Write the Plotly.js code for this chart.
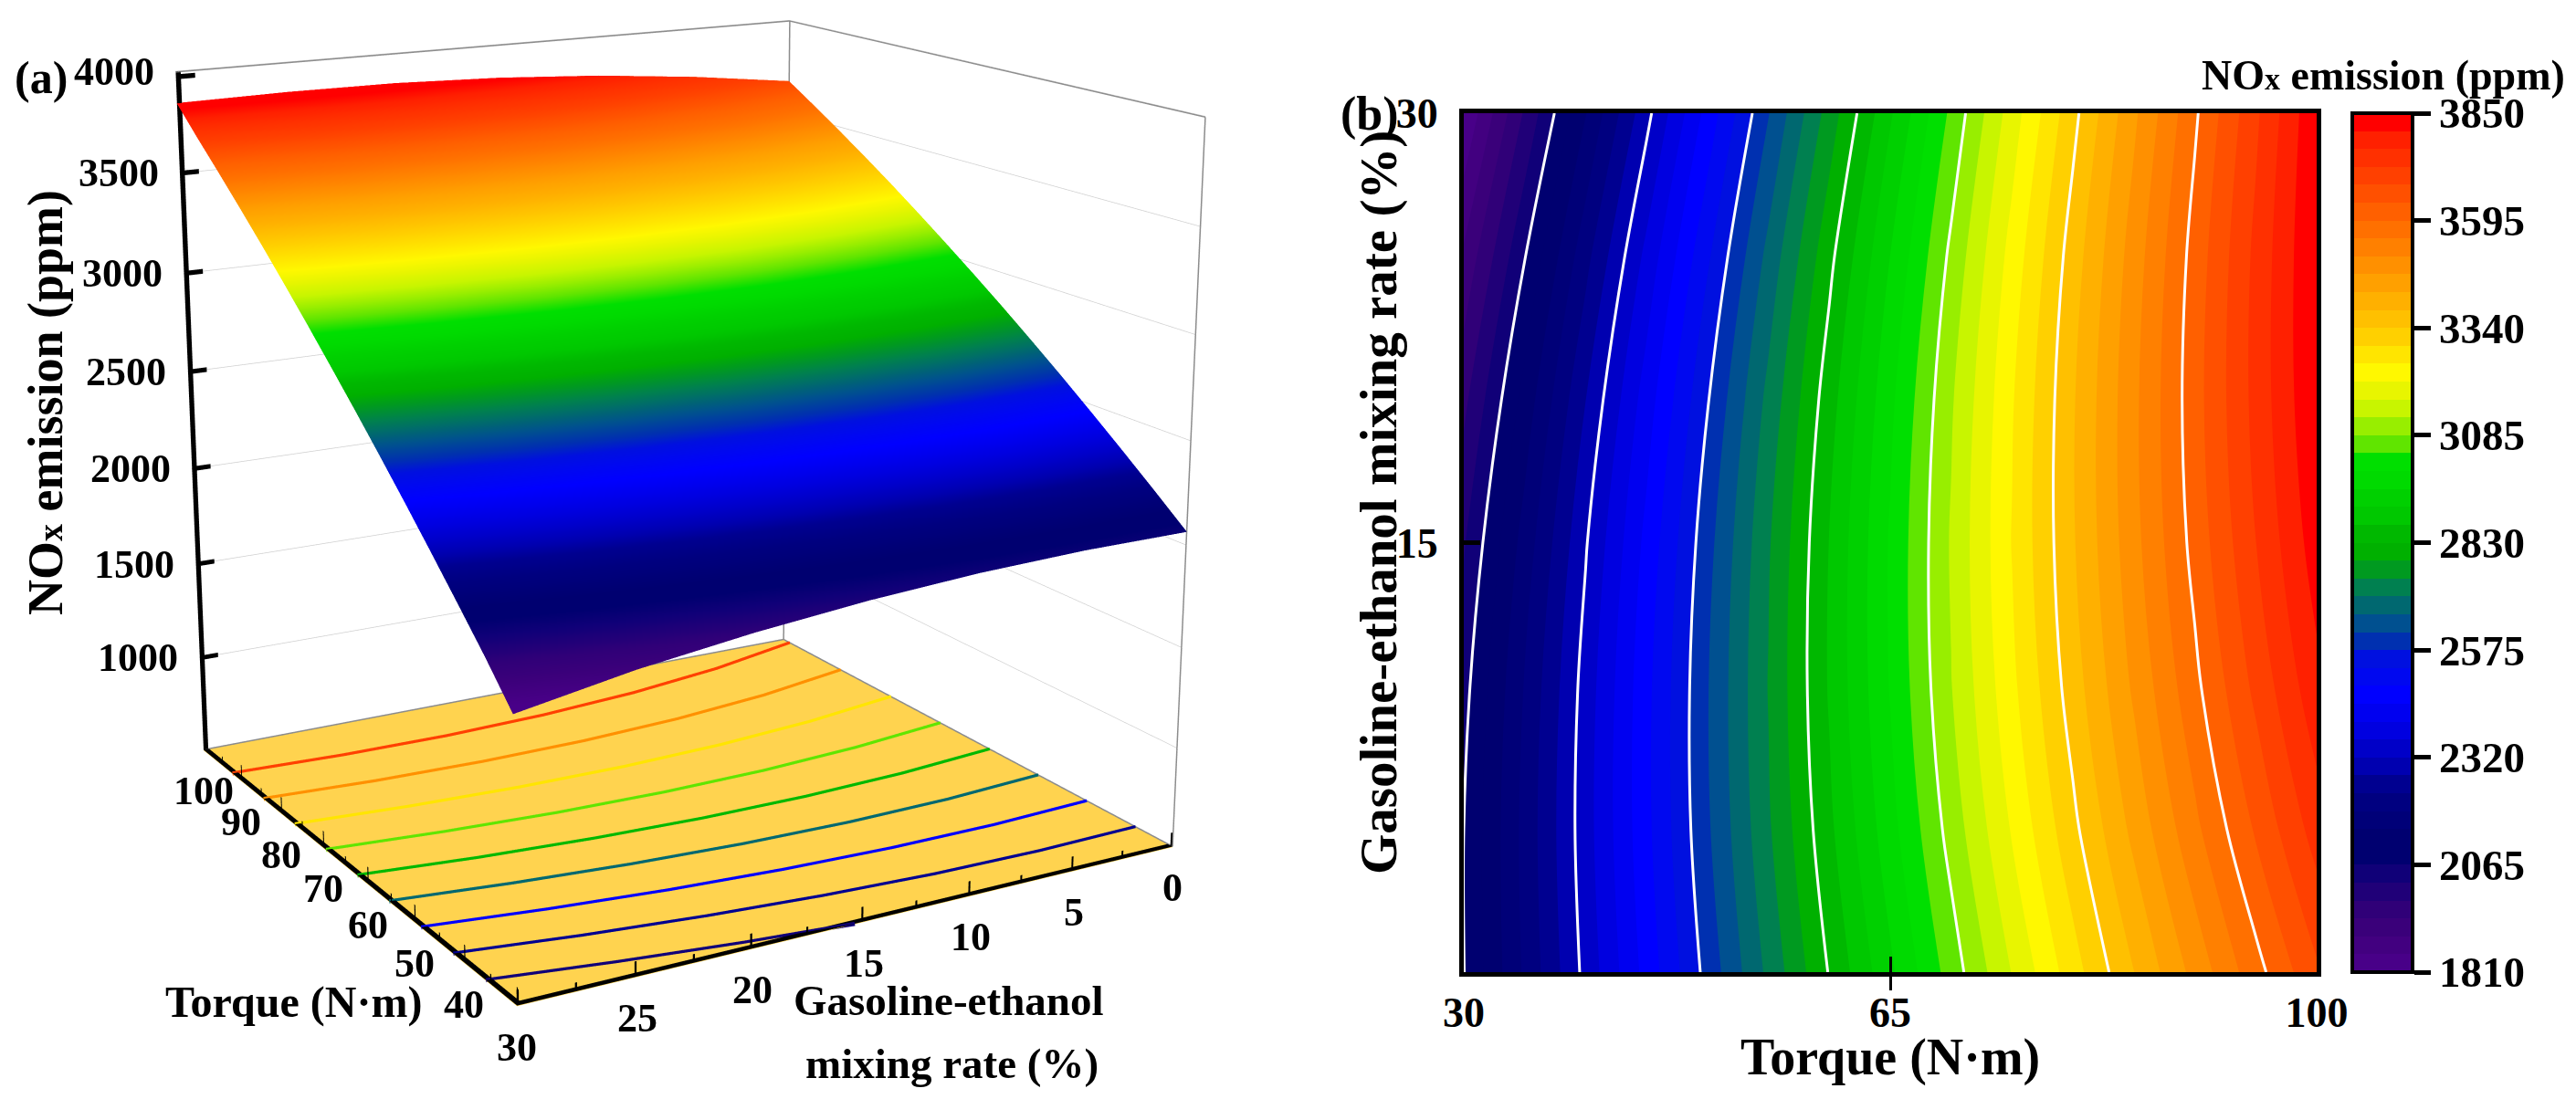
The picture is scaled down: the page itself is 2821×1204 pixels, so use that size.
<!DOCTYPE html>
<html><head><meta charset="utf-8">
<script src="https://cdn.plot.ly/plotly-3.0.1.min.js"></script>
<style>html,body{margin:0;padding:0;background:#fff;overflow:hidden;width:2821px;height:1204px}
#plot{position:absolute;left:0;top:-978px;width:2821px;height:2954px}</style>
</head><body><div id="plot"></div>
<script>
const torque=[30,35,40,45,50,55,60,65,70,75,80,85,90,95,100];
const blend=[0,5,10,15,20,25,30];
const nox0 =[2064,2200,2333,2463,2590,2713,2833,2949,3062,3172,3279,3382,3482,3579,3673];
const nox5 =[2065,2206,2344,2479,2611,2739,2863,2984,3102,3217,3329,3437,3542,3643,3742];
const nox10=[2050,2196,2338,2478,2615,2747,2877,3003,3126,3245,3362,3475,3584,3691,3795];
const nox15=[2018,2168,2316,2460,2602,2740,2874,3005,3132,3257,3378,3496,3610,3722,3830];
const nox20=[1969,2124,2277,2426,2572,2715,2854,2990,3122,3251,3378,3500,3620,3736,3849];
const nox25=[1903,2063,2221,2375,2526,2673,2818,2958,3095,3229,3361,3488,3612,3733,3852];
const nox30=[1812,1986,2148,2307,2463,2615,2764,2909,3052,3191,3327,3459,3588,3714,3845];
const noxTable=[nox0,nox5,nox10,nox15,nox20,nox25,nox30];

// 48 colour-bar bands, lowest to highest
const bandColors=['#480088','#420080','#3a007a','#300078','#200078','#100078',
 '#000070','#000070','#000078','#000080','#000090','#0000b0',
 '#0000c8','#0000e0','#0000f0','#0000ff','#0008f0','#0010e0',
 '#0030b0','#005090','#006870','#008050','#009a20','#00b000',
 '#00b800','#00c800','#00d000','#00da00','#00df00','#60e500',
 '#98ee00','#c8f500','#e8f500','#fff800','#ffe500','#ffd000',
 '#ffc000','#ffb000','#ffa000','#ff9000','#ff8000','#ff7000',
 '#ff6000','#ff5000','#ff4000','#ff3000','#ff2000','#ff0000'];
const barTicks=[1810,2065,2320,2575,2830,3085,3340,3595,3850];
const zTicks=[1000,1500,2000,2500,3000,3500,4000];
const floorLevels=[2014,2218,2422,2626,2830,3034,3238,3442,3646];
const torqueMajor=[30,40,50,60,70,80,90,100];
const torqueMinor=[35,45,55,65,75,85,95];
const blendMajor=[0,5,10,15,20,25,30];
const blendMinor=[2.5,7.5,12.5,17.5,22.5,27.5];
const blendLabels=[0,5,10,15,20,25];
const zRange=[500,4000], tRange=[30,100], bRange=[0,30];

const W=2821,H=2954,TOP=978;
const px=x=>x/W, py=y=>1-(y+TOP)/H;
const serif='"Liberation Serif","Times New Roman",serif';
const scale=bandColors.map((c,i)=>[(i+0.5)/48,c]);
const colorscale=[[0,bandColors[0]],...scale,[1,bandColors[47]]];

const [z0,z1]=zRange,[t0,t1]=tRange,[b0,b1]=bRange;
// marks sit a hair inside the box: fragments exactly on the clip bounds get discarded at random
const tA=t0+0.02,tB=t1-0.05,bA=b0+0.01,bB=b1-0.01,zA=z0+3,zB=z1-3;

function segs(list){const x=[],y=[],z=[];list.forEach(s=>{x.push(s[0][0],s[1][0],null);y.push(s[0][1],s[1][1],null);z.push(s[0][2],s[1][2],null);});return {x,y,z};}
function line3d(list,color,width){return Object.assign({type:'scatter3d',mode:'lines',line:{color,width},hoverinfo:'skip',showlegend:false,scene:'scene'},segs(list));}

// Solid black strips for the axes and ticks: each quad is [corner, alongVector, acrossVector]
function quads(list){
  const x=[],y=[],z=[],i=[],j=[],k=[];
  list.forEach(([p,a,c])=>{
    const n=x.length;
    [[0,0],[1,0],[1,1],[0,1]].forEach(([u,v])=>{x.push(p[0]+u*a[0]+v*c[0]);y.push(p[1]+u*a[1]+v*c[1]);z.push(p[2]+u*a[2]+v*c[2]);});
    i.push(n,n);j.push(n+1,n+2);k.push(n+2,n+3);
  });
  return {type:'mesh3d',scene:'scene',x,y,z,i,j,k,color:'#000',flatshading:true,hoverinfo:'skip',showscale:false,
    lighting:{ambient:1,diffuse:0,specular:0,roughness:1,fresnel:0}};
}
const lift=z0+2;
const axisQuads=[
  [[tB,bB,zA],[0,0,zB-zA],[0,-0.22,0]],
  [[tA,bB,lift],[tB-tA,0,0],[0,-0.26,0]],
  [[tA,bA,lift],[0,bB-bA,0],[0.75,0,0]]
];
const clampT=v=>Math.min(Math.max(v,tA),tB-0.22);
const clampB=v=>Math.min(Math.max(v,bA),bB-0.09);
const tickQuads=[
  ...zTicks.map(v=>[[tB,bB,Math.min(v,zB-24)-12],[0,-0.85,0],[0,0,24]]),
  ...torqueMajor.map(v=>[[clampT(v),b1-0.05,zA],[0,0,80],[0.22,0,0]]),
  ...torqueMinor.map(v=>[[clampT(v),b1-0.05,zA],[0,0,42],[0.22,0,0]]),
  ...blendMajor.map(v=>[[t0+0.1,clampB(v),zA],[0,0,70],[0,0.09,0]]),
  ...blendMinor.map(v=>[[t0+0.1,clampB(v),zA],[0,0,38],[0,0.09,0]])
];

// A level's trace across the table, read row by row
function levelCrossing(level){
  const xs=[],ys=[];
  const tAt=row=>{for(let i=0;i<torque.length-1;i++){if(row[i]<=level&&row[i+1]>=level)return torque[i]+(level-row[i])/(row[i+1]-row[i])*(torque[i+1]-torque[i]);}return null;};
  blend.forEach((b,r)=>{
    const t=tAt(noxTable[r]);
    if(r>0){const p=noxTable[r-1][0],q=noxTable[r][0];
      if((p-level)*(q-level)<0){xs.push(tA);ys.push(blend[r-1]+(level-p)/(q-p)*(b-blend[r-1]));}}
    if(t!==null){xs.push(t);ys.push(Math.min(Math.max(b,bA),bB));}
  });
  return {xs,ys};
}
const floorTraces=floorLevels.map(level=>{
  const c=levelCrossing(level);
  const col=bandColors[Math.min(47,Math.ceil((level-1810)/42.5))];
  return {type:'scatter3d',mode:'lines',x:c.xs,y:c.ys,z:c.xs.map(()=>z0+1.5),line:{color:col,width:9},hoverinfo:'skip',showlegend:false,scene:'scene'};
});

const traces=[
 {type:'surface',scene:'scene',x:torque,y:blend,z:noxTable,colorscale,cmin:1810,cmax:3850,showscale:false,hoverinfo:'skip',
  lighting:{ambient:1,diffuse:0,specular:0,roughness:1,fresnel:0}},
 ...floorTraces,
 line3d([[[tB,bB,zB],[tB,bA,zB]],[[tB,bA,zB],[tA,bA,zB]],[[tB,bA,zA],[tB,bA,zB]],[[tA,bA,zA],[tA,bA,zB]],[[tB,bB,zA],[tB,bA,zA]],[[tB,bA,zA],[tA,bA,zA]]],'#8c8c8c',3),
 quads(axisQuads.concat(tickQuads)),
 {type:'contour',x:torque,y:blend,z:noxTable,xaxis:'x',yaxis:'y',colorscale,zmin:1810,zmax:3850,zauto:false,hoverinfo:'skip',
  autocontour:false,contours:{start:1810,end:3850,size:42.5,coloring:'fill',showlines:false},line:{width:0,smoothing:1},
  colorbar:{x:px(2576),xanchor:'left',xpad:0,y:py(124),yanchor:'top',ypad:0,lenmode:'pixels',len:941,thicknessmode:'pixels',thickness:66,
   tickmode:'array',tickvals:barTicks,ticktext:barTicks.map(String),ticks:'outside',ticklen:18,tickwidth:5,tickcolor:'#000',
   tickfont:{family:serif,size:47,color:'#000',weight:'bold'},outlinecolor:'#000',outlinewidth:4,borderwidth:0}},
 {type:'contour',x:torque,y:blend,z:noxTable,xaxis:'x',yaxis:'y',showscale:false,hoverinfo:'skip',autocontour:false,
  contours:{start:2065,end:3595,size:255,coloring:'none'},line:{color:'#fff',width:3,smoothing:1}}
];

const ann3d=[];
const lab=44;
zTicks.forEach(v=>ann3d.push({x:t1,y:b1,z:v,text:'<b>'+v+'</b>',showarrow:false,xanchor:'right',xshift:-21,yshift:0,font:{family:serif,size:lab,color:'#000'}}));
torqueMajor.forEach(v=>ann3d.push({x:v,y:b1,z:z0+5,text:'<b>'+v+'</b>',showarrow:false,xanchor:'center',yanchor:'middle',yshift:-46,font:{family:serif,size:lab,color:'#000'}}));
blendLabels.forEach(v=>ann3d.push({x:t0,y:v,z:z0+5,text:'<b>'+v+'</b>',showarrow:false,xanchor:'center',yanchor:'middle',yshift:-46,font:{family:serif,size:lab,color:'#000'}}));

function note(text,x,y,size,extra){return Object.assign({text:'<b>'+text+'</b>',x:px(x),y:py(y),xref:'paper',yref:'paper',showarrow:false,xanchor:'center',yanchor:'middle',font:{family:serif,size,color:'#000'}},extra||{});}
const annotations=[
 note('(a)',45,85,50),
 note('(b)',1500,125,52),
 note('NO<span style="font-size:38px">x</span> emission (ppm)',50,441,54,{textangle:-90}),
 note('Torque (N·m)',321,1098,48),
 note('Gasoline-ethanol',1038,1096,47),
 note('mixing rate (%)',1042,1165,47),
 note('Gasoline-ethanol mixing rate (%)',1510,551,57,{textangle:-90}),
 note('Torque (N·m)',2070,1158,56),
 note('NO<span style="font-size:34px">x</span> emission (ppm)',2610,82,46)
];
const axis3d={showticklabels:false,ticks:'',showline:false,zeroline:false,showspikes:false,showgrid:false,showbackground:false,title:{text:''},autorange:false};
const layout={width:W,height:H,autosize:false,margin:{l:0,r:0,t:0,b:0},paper_bgcolor:'#fff',plot_bgcolor:'#fff',showlegend:false,
 scene:{domain:{x:[0,1466/W],y:[0,1]},aspectmode:'manual',aspectratio:{x:1,y:1,z:1},bgcolor:'rgba(0,0,0,0)',
  camera:{eye:{x:-3.72,y:2.14,z:1.203},center:{x:0,y:0,z:0},up:{x:0,y:0,z:1},projection:{type:'perspective'}},
  xaxis:Object.assign({},axis3d,{range:tRange}),
  yaxis:Object.assign({},axis3d,{range:bRange}),
  zaxis:Object.assign({},axis3d,{range:zRange,tickmode:'array',tickvals:zTicks,showgrid:true,gridcolor:'#cfcfcf',gridwidth:1.5,showbackground:true,backgroundcolor:'#FFD34F'}),
  annotations:ann3d},
 xaxis:{domain:[px(1603),px(2537)],range:tRange,anchor:'y',tickmode:'array',tickvals:[30,65,100],ticktext:['30','65','100'],ticks:'inside',ticklen:17,tickwidth:3,tickcolor:'#000',
  minor:{ticks:'outside',tickmode:'array',tickvals:[65],ticklen:15,tickwidth:3,tickcolor:'#000'},
  showline:true,mirror:true,linecolor:'#000',linewidth:5,showgrid:false,zeroline:false,ticklabelstandoff:0,tickangle:0,
  tickfont:{family:serif,size:46,color:'#000',weight:'bold'}},
 yaxis:{domain:[py(1065),py(124)],range:bRange,anchor:'x',tickmode:'array',tickvals:[15,30],ticktext:['15','30'],ticks:'inside',ticklen:18,tickwidth:5,tickcolor:'#000',
  showline:true,mirror:true,linecolor:'#000',linewidth:5,showgrid:false,zeroline:false,ticklabelstandoff:14,
  tickfont:{family:serif,size:46,color:'#000',weight:'bold'}},
 annotations
};
Plotly.newPlot('plot',traces,layout,{displayModeBar:false,responsive:false});
</script></body></html>
